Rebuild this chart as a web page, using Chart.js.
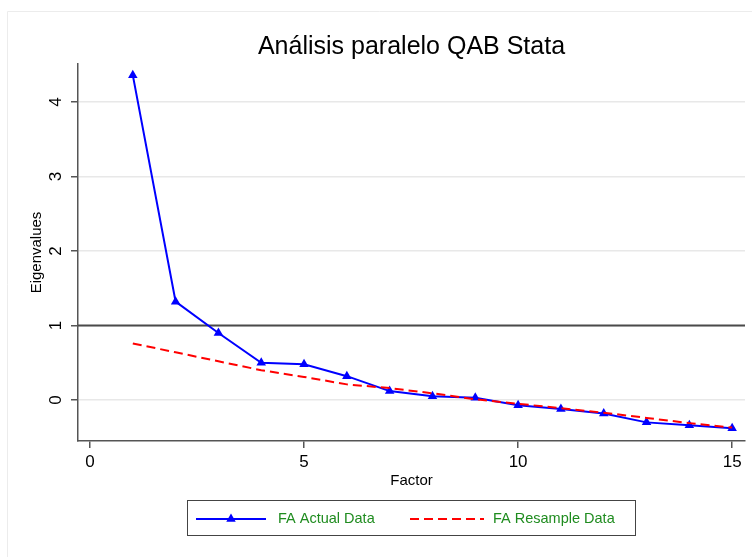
<!DOCTYPE html>
<html>
<head>
<meta charset="utf-8">
<style>
  html, body { margin: 0; padding: 0; background: #ffffff; }
  #wrap { width: 752px; height: 557px; position: relative; }
</style>
<script src="https://cdn.jsdelivr.net/npm/chart.js@4.4.1/dist/chart.umd.min.js"></script>
</head>
<body>
<div id="wrap"><canvas id="c" width="752" height="557"></canvas></div>
<script>
// ---- data ----
const chartTitle = 'Análisis paralelo QAB Stata';
const factors = [1, 2, 3, 4, 5, 6, 7, 8, 9, 10, 11, 12, 13, 14, 15];
const actualEigen = [4.36, 1.32, 0.90, 0.50, 0.48, 0.32, 0.12, 0.05, 0.03, -0.07, -0.12, -0.18, -0.30, -0.34, -0.38];
const resampleEigen = [0.76, 0.64, 0.52, 0.40, 0.31, 0.21, 0.16, 0.09, 0.01, -0.05, -0.11, -0.17, -0.24, -0.31, -0.37];
const xTickValues = [0, 5, 10, 15];
const yTickValues = [0, 1, 2, 3, 4];
const referenceLine = 1;
const seriesNames = ['FA Actual Data', 'FA Resample Data'];
const xAxisTitle = 'Factor';
const yAxisTitle = 'Eigenvalues';

const FONT = '"Liberation Sans", Arial, Helvetica, sans-serif';

const framePlugin = {
  id: 'framePlugin',
  afterLayout(chart) {
    const ca = chart.chartArea;
    if (chart.titleBlock) { chart.titleBlock.left = ca.left; chart.titleBlock.right = ca.right; }
  },
  beforeDraw(chart) {
    const ctx = chart.ctx;
    ctx.save();
    ctx.fillStyle = '#ffffff';
    ctx.fillRect(0, 0, chart.width, chart.height);
    ctx.strokeStyle = '#ececec';
    ctx.lineWidth = 1;
    ctx.beginPath();
    ctx.moveTo(7.5, chart.height);
    ctx.lineTo(7.5, 11.5);
    ctx.lineTo(chart.width, 11.5);
    ctx.stroke();
    ctx.restore();
  },
  beforeDatasetsDraw(chart) {
    const ctx = chart.ctx, ca = chart.chartArea;
    const y = chart.scales.y.getPixelForValue(referenceLine);
    ctx.save();
    ctx.strokeStyle = '#4a4a4a';
    ctx.lineWidth = 1.8;
    ctx.beginPath();
    ctx.moveTo(ca.left, y);
    ctx.lineTo(ca.right, y);
    ctx.stroke();
    ctx.restore();
  },
  afterDraw(chart) {
    const ctx = chart.ctx;
    const ds = chart.data.datasets;
    const bx = 187.5, by = 500.5, bw = 448, bh = 35;
    const cy = by + bh / 2 + 1;
    ctx.save();
    ctx.strokeStyle = '#444444';
    ctx.lineWidth = 1;
    ctx.strokeRect(bx, by, bw, bh);
    // item 1
    ctx.strokeStyle = ds[0].borderColor;
    ctx.lineWidth = 1.8;
    ctx.beginPath();
    ctx.moveTo(196, cy); ctx.lineTo(266, cy);
    ctx.stroke();
    const tx = 231, r = 5.5;
    ctx.fillStyle = ds[0].pointBackgroundColor;
    ctx.beginPath();
    ctx.moveTo(tx, cy - r);
    ctx.lineTo(tx + r * Math.sin(2 * Math.PI / 3), cy - r * Math.cos(2 * Math.PI / 3));
    ctx.lineTo(tx + r * Math.sin(4 * Math.PI / 3), cy - r * Math.cos(4 * Math.PI / 3));
    ctx.closePath();
    ctx.fill();
    ctx.font = '14.5px ' + FONT;
    ctx.fillStyle = '#1f8c1f';
    ctx.textBaseline = 'middle';
    ctx.textAlign = 'left';
    ctx.fillText(ds[0].label, 278, cy);
    // item 2
    ctx.strokeStyle = ds[1].borderColor;
    ctx.lineWidth = 2;
    ctx.setLineDash(ds[1].borderDash);
    ctx.beginPath();
    ctx.moveTo(410, cy); ctx.lineTo(484, cy);
    ctx.stroke();
    ctx.setLineDash([]);
    ctx.fillText(ds[1].label, 493, cy);
    ctx.restore();
  }
};

const ctx = document.getElementById('c').getContext('2d');
new Chart(ctx, {
  type: 'line',
  data: {
    datasets: [
      {
        label: seriesNames[0],
        data: factors.map((f, i) => ({ x: f, y: actualEigen[i] })),
        borderColor: '#0000ff',
        backgroundColor: '#0000ff',
        pointBackgroundColor: '#0000ff',
        pointBorderColor: '#0000ff',
        pointStyle: 'triangle',
        pointRadius: 5.5,
        pointBorderWidth: 0,
        borderWidth: 2,
        tension: 0,
        order: 1
      },
      {
        label: seriesNames[1],
        data: factors.map((f, i) => ({ x: f, y: resampleEigen[i] })),
        borderColor: '#ff0000',
        backgroundColor: '#ff0000',
        borderDash: [9, 5],
        borderWidth: 2,
        pointRadius: 0,
        tension: 0,
        order: 0
      }
    ]
  },
  options: {
    responsive: false,
    animation: false,
    devicePixelRatio: 1,
    layout: { padding: { left: 0, right: 7, top: 0, bottom: 66 } },
    plugins: {
      legend: { display: false },
      tooltip: { enabled: false },
      title: {
        display: true,
        text: chartTitle,
        color: '#000000',
        font: { family: FONT, size: 25, weight: 'normal', lineHeight: 1.2 },
        padding: { top: 32, bottom: 2 }
      }
    },
    scales: {
      x: {
        type: 'linear',
        min: -0.28,
        max: 15.3,
        afterBuildTicks: s => { s.ticks = xTickValues.map(v => ({ value: v })); },
        afterFit: s => { s.height = 50; },
        ticks: {
          color: '#000000',
          font: { family: FONT, size: 17 },
          padding: 4,
          maxRotation: 0,
          minRotation: 0
        },
        grid: { drawOnChartArea: false, drawTicks: true, tickLength: 7, tickColor: '#555555', lineWidth: 1.5 },
        border: { display: true, color: '#555555', width: 1.5 },
        title: {
          display: true, text: xAxisTitle, color: '#000000',
          font: { family: FONT, size: 15 }, padding: { top: 0, bottom: 1 }
        }
      },
      y: {
        type: 'linear',
        min: -0.55,
        max: 4.51,
        afterBuildTicks: s => { s.ticks = yTickValues.map(v => ({ value: v })); },
        afterFit: s => { s.width = 78; },
        ticks: {
          color: '#000000',
          font: { family: FONT, size: 17 },
          padding: 10,
          minRotation: 90,
          maxRotation: 90,
          crossAlign: 'center'
        },
        grid: { color: '#e8e8e8', lineWidth: 1.5, drawTicks: true, tickLength: 7, tickColor: '#555555' },
        border: { display: true, color: '#555555', width: 1.5 },
        title: {
          display: true, text: yAxisTitle, color: '#000000',
          font: { family: FONT, size: 15 }, padding: { top: 28, bottom: 0 }
        }
      }
    }
  },
  plugins: [framePlugin]
});
</script>
</body>
</html>
